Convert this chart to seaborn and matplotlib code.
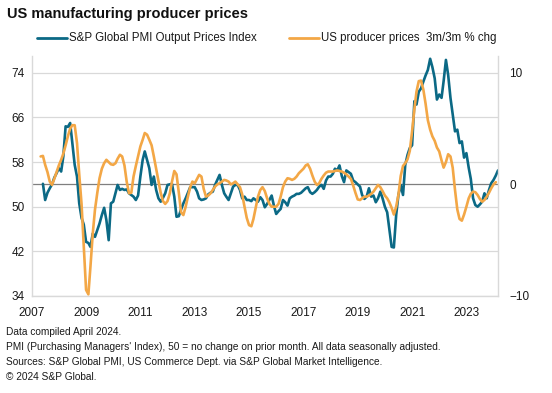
import matplotlib
matplotlib.use("Agg")
import matplotlib.pyplot as plt
import matplotlib.dates as mdates
from matplotlib.lines import Line2D
import numpy as np
import pandas as pd
import seaborn as sns

# ---------------- data ----------------
pmi_start = "2007-06-01"
pmi_values = [
    54.1, 51.2, 52.5, 53.3, 54.0, 55.2, 56.0,                                  # 2007 Jun-Dec
    56.9, 56.3, 59.0, 64.4, 64.3, 65.0, 61.4, 57.5, 55.4, 50.6, 48.0, 46.8,    # 2008
    43.7, 43.5, 42.8, 45.2, 44.6, 45.8, 47.0, 48.5, 49.8, 47.6, 44.0, 50.6,    # 2009
    50.9, 52.5, 53.9, 53.0, 53.2, 53.0, 53.1, 52.4, 52.1, 51.8, 51.2, 52.0,    # 2010
    55.4, 58.4, 59.9, 58.4, 56.9, 53.9, 55.4, 53.0, 51.5, 50.9, 51.6, 52.4,    # 2011
    53.9, 54.0, 54.1, 51.8, 48.2, 48.3, 49.5, 50.6, 51.5, 52.5, 53.5, 53.5,    # 2012
    53.5, 52.7, 51.5, 51.2, 51.3, 51.5, 52.2, 52.5, 52.7, 53.9, 54.8, 55.7,    # 2013
    53.9, 52.4, 51.8, 51.2, 52.4, 53.6, 53.9, 53.9, 53.0, 51.5, 51.8, 51.2,    # 2014
    51.2, 51.0, 51.5, 51.2, 50.9, 51.7, 51.2, 49.9, 50.5, 51.2, 52.0, 50.2,    # 2015
    48.7, 49.2, 49.6, 51.2, 50.8, 50.2, 51.5, 51.8, 52.0, 52.3, 52.3, 52.5,    # 2016
    52.9, 53.3, 53.5, 52.6, 52.3, 52.6, 53.0, 53.6, 53.9, 53.2, 54.7, 55.4,    # 2017
    55.4, 55.9, 56.8, 56.5, 57.4, 55.5, 54.4, 56.5, 56.2, 55.9, 54.7, 54.4,    # 2018
    54.0, 53.6, 52.1, 51.4, 51.8, 53.3, 51.8, 52.0, 50.8, 51.5, 52.7, 51.5,    # 2019
    50.0, 49.0, 46.0, 42.8, 42.7, 48.5, 52.1, 53.9, 52.1, 57.5, 59.3, 60.5,    # 2020
    61.0, 68.9, 68.3, 70.6, 71.2, 72.4, 73.5, 74.5, 76.5, 75.0, 73.0, 69.2,    # 2021
    70.1, 69.5, 72.5, 76.3, 73.6, 69.5, 66.5, 63.5, 63.8, 61.4, 61.7, 58.8,    # 2022
    59.6, 57.0, 55.0, 51.5, 50.3, 50.0, 50.4, 50.9, 52.4, 51.5, 53.0, 54.2,    # 2023
    54.8, 55.6, 56.5,                                                          # 2024
]

ppi_start = "2007-05-01"
ppi_values = [
    2.5, 2.55, 1.75, 1.1, 0.25, -0.05, 0.5, 1.1,                               # 2007 May-Dec
    1.7, 2.2, 2.75, 3.5, 4.3, 5.0, 5.3, 5.3, 3.7, 0.9, -1.75, -5.6,            # 2008
    -9.45, -9.85, -7.35, -4.4, -2.25, -0.75, 0.55, 1.4, 1.9, 2.2, 2.0, 1.8,   # 2009
    1.75, 1.9, 2.3, 2.65, 2.5, 1.7, 0.25, -0.8, -0.75, 0.7, 1.65, 2.5,        # 2010
    3.4, 4.0, 4.6, 4.45, 4.0, 3.5, 2.5, 1.4, 0.25, -0.75, -1.5, -1.75,        # 2011
    -1.5, -0.8, 0.25, 1.2, 0.9, -0.75, -2.5, -2.75, -2.0, -1.1, -0.25, 0.25,  # 2012
    0.1, 0.5, 0.85, 0.7, -0.4, -1.1, -1.0, -0.8, -0.5, -0.2, 0.0, 0.1,        # 2013
    0.25, 0.4, 0.35, 0.25, 0.0, 0.1, 0.25, 0.0, -0.25, -0.9, -2.0, -3.0,      # 2014
    -3.65, -3.75, -3.1, -2.1, -1.1, -0.5, -0.25, -0.6, -1.25, -1.75, -2.0, -2.0,  # 2015
    -2.0, -1.75, -1.1, -0.25, 0.25, 0.55, 0.5, 0.4, 0.5, 0.7, 1.0, 1.2,       # 2016
    1.4, 1.7, 1.8, 1.4, 0.8, 0.25, -0.05, 0.1, 0.5, 0.8, 1.05, 1.15,          # 2017
    1.15, 1.15, 1.2, 1.25, 1.2, 1.15, 1.05, 0.9, 0.7, 0.5, -0.1, -0.75,       # 2018
    -1.35, -1.4, -1.25, -1.1, -1.1, -1.0, -0.85, -0.65, -0.35, -0.05, -0.25, -0.6,  # 2019
    -1.0, -1.25, -1.6, -2.1, -2.7, -2.0, -0.95, 0.75, 1.65, 1.9, 2.25, 3.0,   # 2020
    4.75, 6.75, 8.3, 9.25, 9.3, 8.5, 7.25, 5.75, 4.9, 4.3, 3.9, 3.3,          # 2021
    2.95, 2.15, 1.5, 2.0, 2.7, 2.5, 1.5, -0.5, -2.25, -3.1, -3.25, -2.7,      # 2022
    -2.0, -1.25, -0.85, -0.65, -0.7, -0.95, -1.3, -1.55, -1.4, -1.1, -0.75, -0.35,  # 2023
    0.0, 0.2,                                                                   # 2024
]

pmi_label = "S&P Global PMI Output Prices Index"
ppi_label = "US producer prices  3m/3m % chg"
left_ticks = [34, 42, 50, 58, 66, 74]
right_ticks = [-10, 0, 10]
year_ticks = list(range(2007, 2024, 2))

title = "US manufacturing producer prices"
footnotes = [
    "Data compiled April 2024.",
    "PMI (Purchasing Managers' Index), 50 = no change on prior month. All data seasonally adjusted.",
    "Sources: S&P Global PMI, US Commerce Dept. via S&P Global Market Intelligence.",
    "\u00a9 2024 S&P Global.",
]

# ---------------- style ----------------
sns.set_theme(style="white")
plt.rcParams["font.family"] = ["Liberation Sans", "DejaVu Sans"]

BLUE = "#0b6985"
ORANGE = "#f3a746"
GRID = "#d9d9d9"
TXT = "#1a1a1a"

W, H = 552, 393
fig = plt.figure(figsize=(W / 100, H / 100), dpi=100)
L, R, T, B = 31.7, 498, 56, 296
ax = fig.add_axes([L / W, 1 - B / H, (R - L) / W, (B - T) / H])

pmi_df = pd.DataFrame({"date": pd.date_range(pmi_start, periods=len(pmi_values), freq="MS"),
                       "value": pmi_values})
ppi_df = pd.DataFrame({"date": pd.date_range(ppi_start, periods=len(ppi_values), freq="MS"),
                       "value": ppi_values})

L0, L1 = 34, 77
R0, R1 = -10, 11.5

ax.set_ylim(L0, L1)
ax.set_yticks(left_ticks)
ax.yaxis.grid(True, color=GRID, linewidth=0.9)
ax.set_axisbelow(True)
# secondary-axis zero line, expressed in left-axis units
zero_on_left = L0 + (0 - R0) * (L1 - L0) / (R1 - R0)
ax.axhline(zero_on_left, color="#7f7f7f", linewidth=0.9, zorder=1)

sns.lineplot(data=pmi_df, x="date", y="value", ax=ax, color=BLUE, linewidth=1.9, zorder=3)

ax2 = ax.twinx()
sns.lineplot(data=ppi_df, x="date", y="value", ax=ax2, color=ORANGE, linewidth=1.9, zorder=3)
ax2.set_ylim(R0, R1)
ax2.set_yticks(right_ticks)

xmin, xmax = pd.Timestamp("2007-01-01"), pd.Timestamp("2024-03-01")
ax.set_xlim(xmin, xmax)
ax.set_xticks([pd.Timestamp(f"{y}-01-01") for y in year_ticks])
ax.xaxis.set_major_formatter(mdates.DateFormatter("%Y"))

for a in (ax, ax2):
    a.set_xlabel("")
    a.set_ylabel("")
    for s in a.spines.values():
        s.set_visible(False)
ax.spines["left"].set_visible(True)
ax.spines["bottom"].set_visible(True)
ax2.spines["right"].set_visible(True)
for s in (ax.spines["left"], ax.spines["bottom"], ax2.spines["right"]):
    s.set_color(GRID)
    s.set_linewidth(1.0)

ax.tick_params(axis="y", length=0, pad=5, labelsize=8.5, labelcolor=TXT)
ax.tick_params(axis="x", length=0, pad=8, labelsize=8.5, labelcolor=TXT)
ax2.tick_params(axis="y", length=0, pad=8, labelsize=8.5, labelcolor=TXT)

# title
fig.text(7 / W, 1 - 14 / H, title, fontsize=10.5, fontweight="bold", color="#111111",
         ha="left", va="center")

# legend
ly = 1 - 38 / H
fig.add_artist(Line2D([37 / W, 67 / W], [ly, ly], color=BLUE, linewidth=2.0))
fig.text(69 / W, ly, pmi_label, fontsize=8.3, color=TXT, ha="left", va="center")
fig.add_artist(Line2D([289 / W, 319 / W], [ly, ly], color=ORANGE, linewidth=2.0))
fig.text(321 / W, ly, ppi_label, fontsize=8.3, color=TXT, ha="left", va="center")

# footnotes
for i, line in enumerate(footnotes):
    fig.text(6.3 / W, 1 - (331.6 + i * 15.3) / H, line, fontsize=7.3, color=TXT,
             ha="left", va="center")

fig.savefig("out.png", dpi=100)
